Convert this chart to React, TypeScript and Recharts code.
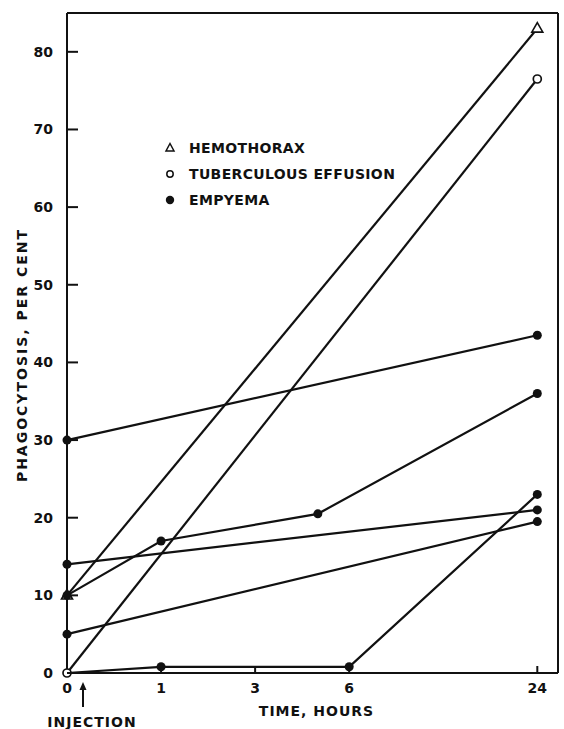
import React from 'react';
import { LineChart, Line, XAxis, YAxis, Legend, ReferenceLine } from 'recharts';

// ---- data ----
const tickTimes = [0, 1, 3, 6, 24];
const tickLabels = ['0', '1', '3', '6', '24'];
// axis is broken: equal-ish spacing between labelled times, 24 h placed further right
const tickPositions = [0, 1, 2, 3, 5];
const xMax = 5.22;
const yTicks = [0, 10, 20, 30, 40, 50, 60, 70, 80];
const yMax = 85;

const hemothoraxTimes = [0, 24];
const hemothoraxValues = [10, 83];

const tuberculousTimes = [0, 24];
const tuberculousValues = [0, 76.5];

const empyemaATimes = [0, 24];
const empyemaAValues = [30, 43.5];
const empyemaBTimes = [0, 1, 5, 24];
const empyemaBValues = [10, 17, 20.5, 36];
const empyemaCTimes = [0, 24];
const empyemaCValues = [14, 21];
const empyemaDTimes = [0, 24];
const empyemaDValues = [5, 19.5];
const empyemaETimes = [0, 1, 6, 24];
const empyemaEValues = [0, 0.8, 0.8, 23];

const legendLabels = ['HEMOTHORAX', 'TUBERCULOUS EFFUSION', 'EMPYEMA'];
const xAxisTitle = 'TIME, HOURS';
const yAxisTitle = 'PHAGOCYTOSIS, PER CENT';
const injectionLabel = 'INJECTION';

// ---- helpers ----
function timeToPos(t: number): number {
  for (let i = 0; i < tickTimes.length - 1; i++) {
    const a = tickTimes[i], b = tickTimes[i + 1];
    if (t >= a && t <= b) {
      return tickPositions[i] + ((t - a) / (b - a)) * (tickPositions[i + 1] - tickPositions[i]);
    }
  }
  return tickPositions[tickPositions.length - 1];
}

function build(times: number[], values: number[]) {
  return times.map((t, i) => ({ pos: timeToPos(t), value: values[i] }));
}

const FONT = '"DejaVu Sans", sans-serif';
const INK = '#111';

const TriangleDot = (props: any) => {
  const { cx, cy, index } = props;
  if (cx == null || cy == null) return <g key={`t-${index}`} />;
  return (
    <path
      key={`t-${index}`}
      d={`M${cx},${cy - 6} L${cx + 5.5},${cy + 3.6} L${cx - 5.5},${cy + 3.6} Z`}
      fill="#fff"
      stroke={INK}
      strokeWidth={1.6}
    />
  );
};

const OpenDot = (props: any) => {
  const { cx, cy, index } = props;
  if (cx == null || cy == null) return <g key={`o-${index}`} />;
  return <circle key={`o-${index}`} cx={cx} cy={cy} r={4} fill="#fff" stroke={INK} strokeWidth={1.7} />;
};

const FilledDot = (props: any) => {
  const { cx, cy, index } = props;
  if (cx == null || cy == null) return <g key={`f-${index}`} />;
  return <circle key={`f-${index}`} cx={cx} cy={cy} r={4.5} fill={INK} />;
};

const FilledDotSkipFirst = (props: any) => {
  const { index } = props;
  if (index === 0) return <g key={`fs-${index}`} />;
  return FilledDot(props);
};

const YTick = (props: any) => {
  const { x, y, payload } = props;
  return (
    <g>
      <line x1={x} y1={y} x2={x + 11} y2={y} stroke={INK} strokeWidth={2} />
      <text x={x - 14} y={y + 5} textAnchor="end" fontFamily={FONT} fontWeight="bold" fontSize={14} fill={INK}>
        {payload.value}
      </text>
    </g>
  );
};

const XTick = (props: any) => {
  const { x, y, payload } = props;
  const idx = tickPositions.indexOf(payload.value);
  const label = idx >= 0 ? tickLabels[idx] : '';
  return (
    <g>
      {payload.value !== 0 && <line x1={x} y1={y} x2={x} y2={y - 7} stroke={INK} strokeWidth={2} />}
      <text x={x} y={y + 20} textAnchor="middle" fontFamily={FONT} fontWeight="bold" fontSize={14} fill={INK}>
        {label}
      </text>
      {payload.value === 0 && (
        <g>
          <line x1={x + 16} y1={y + 34} x2={x + 16} y2={y + 14} stroke={INK} strokeWidth={2} />
          <path d={`M${x + 16},${y + 9} L${x + 19.5},${y + 17} L${x + 12.5},${y + 17} Z`} fill={INK} />
          <text x={x + 25} y={y + 54} textAnchor="middle" fontFamily={FONT} fontWeight="bold" fontSize={14} letterSpacing={1} fill={INK}>
            {injectionLabel}
          </text>
        </g>
      )}
    </g>
  );
};

const XTitle = (props: any) => {
  const { viewBox } = props;
  const cx = viewBox.x + viewBox.width / 2 + 4;
  return (
    <text x={cx} y={viewBox.y + 43} textAnchor="middle" fontFamily={FONT} fontWeight="bold" fontSize={14} letterSpacing={1} fill={INK}>
      {xAxisTitle}
    </text>
  );
};

const YTitle = (props: any) => {
  const { viewBox } = props;
  const cx = 22;
  const cy = viewBox.y + viewBox.height / 2 + 12;
  return (
    <text
      x={cx}
      y={cy}
      transform={`rotate(-90 ${cx} ${cy})`}
      textAnchor="middle"
      dominantBaseline="central"
      fontFamily={FONT}
      fontWeight="bold"
      fontSize={14}
      letterSpacing={2}
      fill={INK}
    >
      {yAxisTitle}
    </text>
  );
};

const LegendContent = () => {
  const rowH = 26;
  return (
    <svg width={260} height={80} style={{ display: 'block' }}>
      {legendLabels.map((lab, i) => {
        const cy = 13 + i * rowH;
        let marker;
        if (i === 0) marker = <path d={`M10,${cy - 4.5} L14,${cy + 3} L6,${cy + 3} Z`} fill="#fff" stroke={INK} strokeWidth={1.5} />;
        else if (i === 1) marker = <circle cx={10} cy={cy} r={3.2} fill="#fff" stroke={INK} strokeWidth={1.5} />;
        else marker = <circle cx={10} cy={cy} r={4.2} fill={INK} />;
        return (
          <g key={lab}>
            {marker}
            <text x={29} y={cy + 5} fontFamily={FONT} fontWeight="bold" fontSize={14} letterSpacing={0.35} fill={INK}>
              {lab}
            </text>
          </g>
        );
      })}
    </svg>
  );
};

const lineProps = {
  type: 'linear' as const,
  dataKey: 'value',
  stroke: INK,
  strokeWidth: 2.2,
  isAnimationActive: false,
  legendType: 'none' as const,
};

export default function App() {
  return (
    <div style={{ position: 'absolute', left: 0, top: 0, background: '#fff' }}>
      <LineChart width={564} height={729} margin={{ top: 13, right: 6, bottom: 0, left: 0 }}>
        <XAxis
          type="number"
          dataKey="pos"
          domain={[0, xMax]}
          ticks={tickPositions}
          axisLine={{ stroke: INK, strokeWidth: 2 }}
          tickLine={false}
          tickSize={0}
          tickMargin={0}
          tick={<XTick />}
          height={56}
          interval={0}
          label={<XTitle />}
        />
        <YAxis
          type="number"
          domain={[0, yMax]}
          ticks={yTicks}
          axisLine={{ stroke: INK, strokeWidth: 2 }}
          tickLine={false}
          tickSize={0}
          tickMargin={0}
          tick={<YTick />}
          width={67}
          interval={0}
          label={<YTitle />}
        />
        <ReferenceLine y={yMax} stroke={INK} strokeWidth={2} />
        <ReferenceLine x={xMax} stroke={INK} strokeWidth={2} />
        <Legend
          verticalAlign="middle"
          align="center"
          layout="vertical"
          content={<LegendContent />}
          wrapperStyle={{ position: 'absolute', left: 160, top: 135, width: 260, height: 80 }}
        />
        <Line {...lineProps} data={build(hemothoraxTimes, hemothoraxValues)} dot={TriangleDot} name="Hemothorax" />
        <Line {...lineProps} data={build(empyemaATimes, empyemaAValues)} dot={FilledDot} name="EmpyemaA" />
        <Line {...lineProps} data={build(empyemaBTimes, empyemaBValues)} dot={FilledDot} name="EmpyemaB" />
        <Line {...lineProps} data={build(empyemaCTimes, empyemaCValues)} dot={FilledDot} name="EmpyemaC" />
        <Line {...lineProps} data={build(empyemaDTimes, empyemaDValues)} dot={FilledDot} name="EmpyemaD" />
        <Line {...lineProps} data={build(empyemaETimes, empyemaEValues)} dot={FilledDotSkipFirst} name="EmpyemaE" />
        <Line {...lineProps} data={build(tuberculousTimes, tuberculousValues)} dot={OpenDot} name="Tuberculous" />
      </LineChart>
    </div>
  );
}
